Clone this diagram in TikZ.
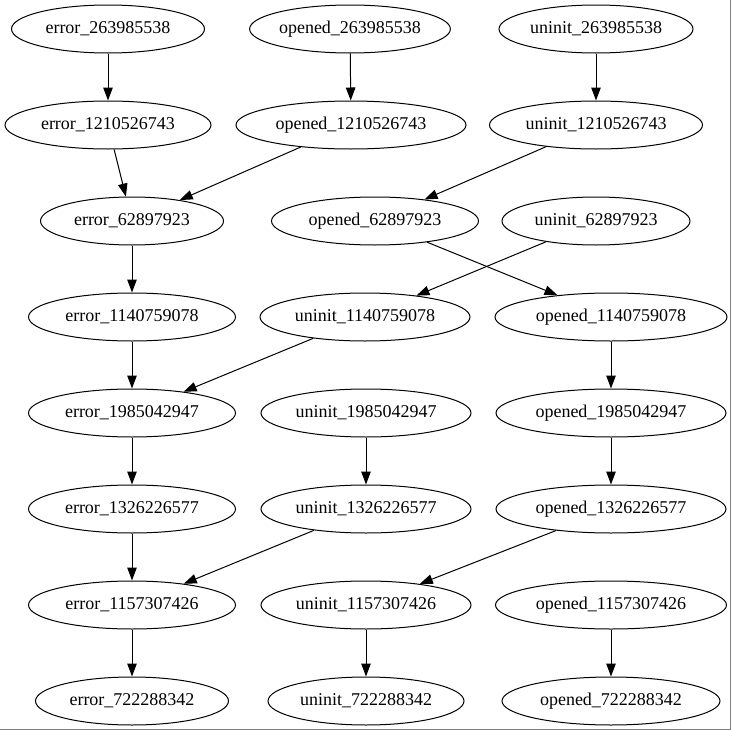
\documentclass[tikz,border=0pt]{standalone}
\usepackage{fontspec}
\setmainfont{Liberation Serif}
\usetikzlibrary{shapes.geometric,arrows.meta}
\begin{document}
\begin{tikzpicture}[x=1pt,y=-1pt,
  st/.style={ellipse,draw,line width=1pt,inner sep=0pt,minimum height=48pt,font=\fontsize{18pt}{20pt}\selectfont},
  edge/.style={line width=1pt,-{Triangle[length=13pt,width=9.5pt]}}]
\useasboundingbox (0,0) rectangle (732,731);
\fill[white] (0,0) rectangle (732,731);
\draw[gray,line width=1pt] (730.5,0) -- (730.5,729.5) -- (0,729.5);
% row 1
\node[st,minimum width=193pt] (e1) at (108,29) {error\_263985538};
\node[st,minimum width=195pt] (o1) at (350,29) {opened\_263985538};
\node[st,minimum width=194pt] (u1) at (596,29) {uninit\_263985538};
% row 2
\node[st,minimum width=206pt] (e2) at (108,125) {error\_1210526743};
\node[st,minimum width=230pt] (o2) at (351,125) {opened\_1210526743};
\node[st,minimum width=213pt] (u2) at (596,125) {uninit\_1210526743};
% row 3
\node[st,minimum width=183pt] (e3) at (132,221) {error\_62897923};
\node[st,minimum width=207pt] (o3) at (375,221) {opened\_62897923};
\node[st,minimum width=188pt] (u3) at (596,221) {uninit\_62897923};
% row 4
\node[st,minimum width=207pt] (e4) at (132,317) {error\_1140759078};
\node[st,minimum width=210pt] (u4) at (365,317) {uninit\_1140759078};
\node[st,minimum width=232pt] (o4) at (611,317) {opened\_1140759078};
% row 5
\node[st,minimum width=207pt] (e5) at (132,413) {error\_1985042947};
\node[st,minimum width=210pt] (u5) at (366,413) {uninit\_1985042947};
\node[st,minimum width=230pt] (o5) at (611,413) {opened\_1985042947};
% row 6
\node[st,minimum width=207pt] (e6) at (132,509) {error\_1326226577};
\node[st,minimum width=210pt] (u6) at (366,509) {uninit\_1326226577};
\node[st,minimum width=230pt] (o6) at (611,509) {opened\_1326226577};
% row 7
\node[st,minimum width=207pt] (e7) at (132,605) {error\_1157307426};
\node[st,minimum width=210pt] (u7) at (366,605) {uninit\_1157307426};
\node[st,minimum width=231pt] (o7) at (611,605) {opened\_1157307426};
% row 8
\node[st,minimum width=193pt] (e8) at (132,701) {error\_722288342};
\node[st,minimum width=196pt] (u8) at (366,701) {uninit\_722288342};
\node[st,minimum width=218pt] (o8) at (611,701) {opened\_722288342};
% edges
\draw[edge] (e1) -- (e2);
\draw[edge] (o1) -- (o2);
\draw[edge] (u1) -- (u2);
\draw[edge] (e2) -- (e3);
\draw[edge] (o2) -- (e3);
\draw[edge] (u2) -- (o3);
\draw[edge] (e3) -- (e4);
\draw[edge] (o3) -- (o4);
\draw[edge] (u3) -- (u4);
\draw[edge] (e4) -- (e5);
\draw[edge] (u4) -- (e5);
\draw[edge] (o4) -- (o5);
\draw[edge] (e5) -- (e6);
\draw[edge] (u5) -- (u6);
\draw[edge] (o5) -- (o6);
\draw[edge] (e6) -- (e7);
\draw[edge] (u6) -- (e7);
\draw[edge] (o6) -- (u7);
\draw[edge] (e7) -- (e8);
\draw[edge] (u7) -- (u8);
\draw[edge] (o7) -- (o8);
\end{tikzpicture}
\end{document}
